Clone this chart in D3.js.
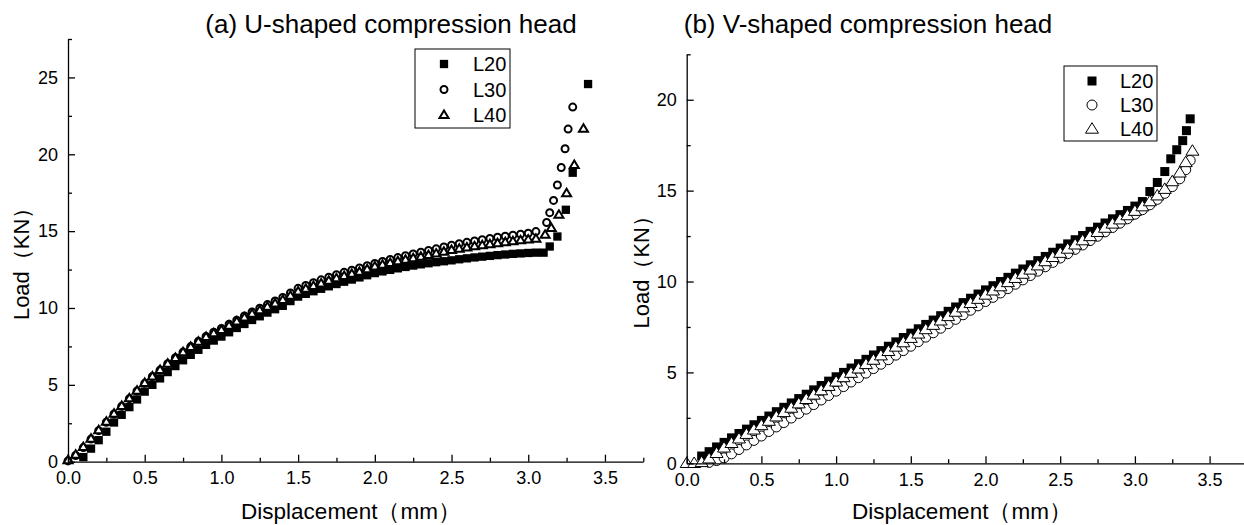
<!DOCTYPE html>
<html><head><meta charset="utf-8">
<script src="https://cdn.jsdelivr.net/npm/d3@7"></script>
<style>
html,body{margin:0;padding:0;background:#fff;}
svg{display:block;}
text{font-family:"Liberation Sans",Arial,Helvetica,sans-serif;fill:#000;}
</style></head>
<body>
<svg id="chart" width="1244" height="525"></svg>
<script>
// ---------------- DATA ----------------
const titles = ["(a) U-shaped compression head", "(b) V-shaped compression head"];
const xLabel = "Displacement（mm）";
const yLabel = "Load（KN）";
const seriesNames = ["L20", "L30", "L40"];
const xMajorTicks = [0, 0.5, 1.0, 1.5, 2.0, 2.5, 3.0, 3.5];
const xMinorTicks = [0.25, 0.75, 1.25, 1.75, 2.25, 2.75, 3.25, 3.75];
const yMajorTicksA = [0, 5, 10, 15, 20, 25];
const yMinorTicksA = [2.5, 7.5, 12.5, 17.5, 22.5, 27.5];
const yMajorTicksB = [0, 5, 10, 15, 20];
const yMinorTicksB = [2.5, 7.5, 12.5, 17.5, 22.5];

// (a) U-shaped
const aX_L20 = [0.10,0.15,0.20,0.25,0.30,0.35,0.40,0.45,0.50,0.55,0.60,0.65,0.70,0.75,0.80,0.85,0.90,0.95,1.00,1.05,1.10,1.15,1.20,1.25,1.30,1.35,1.40,1.45,1.50,1.55,1.60,1.65,1.70,1.75,1.80,1.85,1.90,1.95,2.00,2.05,2.10,2.15,2.20,2.25,2.30,2.35,2.40,2.45,2.50,2.55,2.60,2.65,2.70,2.75,2.80,2.85,2.90,2.95,3.00,3.05,3.10,3.14,3.19,3.245,3.29,3.39];
const aY_L20 = [0.30,0.85,1.40,1.95,2.55,3.05,3.55,4.05,4.56,5.00,5.42,5.83,6.22,6.60,6.95,7.28,7.60,7.88,8.14,8.42,8.70,8.96,9.22,9.46,9.70,9.92,10.14,10.45,10.74,10.92,11.09,11.25,11.41,11.56,11.71,11.85,11.99,12.13,12.27,12.38,12.48,12.58,12.67,12.76,12.84,12.91,12.98,13.04,13.10,13.17,13.23,13.29,13.34,13.39,13.44,13.48,13.52,13.55,13.58,13.60,13.60,14.00,14.65,16.39,18.80,24.57];
const aX_L30 = [0.00,0.05,0.10,0.15,0.20,0.25,0.30,0.35,0.40,0.45,0.50,0.55,0.60,0.65,0.70,0.75,0.80,0.85,0.90,0.95,1.00,1.05,1.10,1.15,1.20,1.25,1.30,1.35,1.40,1.45,1.50,1.55,1.60,1.65,1.70,1.75,1.80,1.85,1.90,1.95,2.00,2.05,2.10,2.15,2.20,2.25,2.30,2.35,2.40,2.45,2.50,2.55,2.60,2.65,2.70,2.75,2.80,2.85,2.90,2.95,3.00,3.05,3.12,3.14,3.165,3.19,3.215,3.24,3.26,3.29];
const aY_L30 = [0.05,0.40,0.92,1.47,2.02,2.57,3.10,3.60,4.10,4.60,5.10,5.54,5.96,6.37,6.76,7.13,7.49,7.83,8.15,8.42,8.67,8.94,9.21,9.48,9.74,9.98,10.22,10.46,10.68,10.98,11.28,11.47,11.65,11.83,12.00,12.16,12.32,12.46,12.60,12.75,12.90,13.03,13.16,13.28,13.40,13.52,13.63,13.74,13.85,13.97,14.08,14.18,14.27,14.36,14.44,14.52,14.60,14.67,14.74,14.80,14.86,14.97,15.56,16.20,17.00,18.00,19.14,20.36,21.64,23.07];
const aX_L40 = [0.00,0.05,0.10,0.15,0.20,0.25,0.30,0.35,0.40,0.45,0.50,0.55,0.60,0.65,0.70,0.75,0.80,0.85,0.90,0.95,1.00,1.05,1.10,1.15,1.20,1.25,1.30,1.35,1.40,1.45,1.50,1.55,1.60,1.65,1.70,1.75,1.80,1.85,1.90,1.95,2.00,2.05,2.10,2.15,2.20,2.25,2.30,2.35,2.40,2.45,2.50,2.55,2.60,2.65,2.70,2.75,2.80,2.85,2.90,2.95,3.00,3.05,3.11,3.15,3.20,3.25,3.30,3.36];
const aY_L40 = [0.10,0.45,0.95,1.50,2.05,2.60,3.12,3.62,4.12,4.62,5.12,5.55,5.97,6.37,6.75,7.12,7.47,7.80,8.12,8.35,8.57,8.85,9.12,9.38,9.62,9.85,10.08,10.30,10.52,10.80,11.07,11.25,11.43,11.60,11.77,11.93,12.08,12.22,12.35,12.52,12.70,12.82,12.93,13.04,13.14,13.24,13.34,13.44,13.54,13.66,13.78,13.86,13.94,14.01,14.08,14.15,14.22,14.28,14.34,14.40,14.45,14.50,14.76,15.20,16.06,17.47,19.30,21.66];

// (b) V-shaped
const bX_L20 = [0.10,0.15,0.20,0.25,0.30,0.35,0.40,0.45,0.50,0.55,0.60,0.65,0.70,0.75,0.80,0.85,0.90,0.95,1.00,1.05,1.10,1.15,1.20,1.25,1.30,1.35,1.40,1.45,1.50,1.55,1.60,1.65,1.70,1.75,1.80,1.85,1.90,1.95,2.00,2.05,2.10,2.15,2.20,2.25,2.30,2.35,2.40,2.45,2.50,2.55,2.60,2.65,2.70,2.75,2.80,2.85,2.90,2.95,3.00,3.05,3.10,3.15,3.20,3.24,3.28,3.32,3.345,3.37];
const bY_L20 = [0.40,0.64,0.90,1.15,1.40,1.64,1.88,2.12,2.36,2.60,2.84,3.08,3.32,3.56,3.80,4.04,4.28,4.52,4.76,5.00,5.24,5.48,5.72,5.96,6.20,6.44,6.68,6.92,7.16,7.40,7.64,7.88,8.12,8.36,8.60,8.84,9.08,9.31,9.54,9.77,10.00,10.23,10.46,10.69,10.92,11.15,11.38,11.61,11.84,12.07,12.30,12.53,12.76,12.99,13.22,13.45,13.68,13.91,14.15,14.40,14.95,15.45,16.05,16.75,17.25,17.75,18.30,18.95];
const bX_L30 = [0.15,0.20,0.25,0.30,0.35,0.40,0.45,0.50,0.55,0.60,0.65,0.70,0.75,0.80,0.85,0.90,0.95,1.00,1.05,1.10,1.15,1.20,1.25,1.30,1.35,1.40,1.45,1.50,1.55,1.60,1.65,1.70,1.75,1.80,1.85,1.90,1.95,2.00,2.05,2.10,2.15,2.20,2.25,2.30,2.35,2.40,2.45,2.50,2.55,2.60,2.65,2.70,2.75,2.80,2.85,2.90,2.95,3.00,3.05,3.10,3.15,3.20,3.25,3.30,3.34,3.37];
const bY_L30 = [0.05,0.15,0.30,0.52,0.76,1.01,1.26,1.50,1.75,2.00,2.24,2.49,2.74,2.98,3.23,3.48,3.73,3.97,4.22,4.47,4.71,4.96,5.21,5.45,5.70,5.95,6.20,6.44,6.69,6.94,7.18,7.43,7.68,7.92,8.17,8.42,8.66,8.90,9.13,9.37,9.61,9.85,10.09,10.33,10.57,10.81,11.05,11.29,11.53,11.77,12.01,12.25,12.49,12.73,12.97,13.21,13.45,13.70,13.95,14.22,14.52,14.85,15.22,15.65,16.15,16.66];
const bX_L40 = [0.00,0.05,0.10,0.15,0.20,0.25,0.30,0.35,0.40,0.45,0.50,0.55,0.60,0.65,0.70,0.75,0.80,0.85,0.90,0.95,1.00,1.05,1.10,1.15,1.20,1.25,1.30,1.35,1.40,1.45,1.50,1.55,1.60,1.65,1.70,1.75,1.80,1.85,1.90,1.95,2.00,2.05,2.10,2.15,2.20,2.25,2.30,2.35,2.40,2.45,2.50,2.55,2.60,2.65,2.70,2.75,2.80,2.85,2.90,2.95,3.00,3.05,3.10,3.15,3.20,3.25,3.30,3.34,3.385];
const bY_L40 = [0.00,0.00,0.05,0.25,0.55,0.85,1.10,1.35,1.60,1.84,2.08,2.32,2.56,2.80,3.04,3.28,3.52,3.76,4.00,4.24,4.48,4.72,4.96,5.20,5.44,5.68,5.92,6.16,6.40,6.64,6.88,7.12,7.36,7.60,7.84,8.08,8.32,8.56,8.80,9.03,9.26,9.49,9.72,9.95,10.18,10.41,10.64,10.87,11.10,11.33,11.56,11.79,12.02,12.25,12.48,12.71,12.94,13.17,13.40,13.63,13.87,14.12,14.40,14.72,15.08,15.50,15.98,16.55,17.18];

// ---------------- DRAW ----------------
const svg = d3.select("#chart");

const panels = [
  { title: titles[0], titleX: 391, xLabelX: 351,
    xRange: [68, 643.3], yRange: [461.7, 39], yMax: 27.5,
    yMajor: yMajorTicksA, yMinor: yMinorTicksA,
    series: [[aX_L20, aY_L20], [aX_L30, aY_L30], [aX_L40, aY_L40]],
    small: true,
    legend: { x: 415, y: 49, w: 95, h: 79, mx: 444, tx: 473, rows: [64, 89.5, 115] },
    yLabelX: 29 },
  { title: titles[1], titleX: 868, xLabelX: 962,
    xRange: [686.7, 686.7 + 3.75 * 149.4], yRange: [463.3, 54.3], yMax: 22.5,
    yMajor: yMajorTicksB, yMinor: yMinorTicksB,
    series: [[bX_L20, bY_L20], [bX_L30, bY_L30], [bX_L40, bY_L40]],
    small: false,
    legend: { x: 1064, y: 66, w: 93, h: 75, mx: 1092, tx: 1120, rows: [81, 105, 129] },
    yLabelX: 649 }
];

function drawMarker(g, kind, small, cx, cy) {
  if (kind === 0) {
    const s = small ? 8.3 : 9;
    g.append("rect").attr("x", cx - s / 2).attr("y", cy - s / 2)
      .attr("width", s).attr("height", s).attr("fill", "#000");
  } else if (kind === 1) {
    const r = small ? 3.5 : 5;
    g.append("circle").attr("cx", cx).attr("cy", cy).attr("r", r)
      .attr("fill", "#fff").attr("stroke", "#000").attr("stroke-width", small ? 2 : 1);
  } else {
    const w = small ? 9 : 13, h = small ? 7.5 : 10.5;
    const p = [[cx, cy - h * 0.6], [cx - w / 2, cy + h * 0.4], [cx + w / 2, cy + h * 0.4]];
    g.append("path").attr("d", "M" + p.map(q => q.join(",")).join("L") + "Z")
      .attr("fill", "#fff").attr("stroke", "#000").attr("stroke-width", small ? 2 : 1)
      .attr("stroke-linejoin", "miter");
  }
}

panels.forEach(P => {
  const x = d3.scaleLinear().domain([0, 3.75]).range(P.xRange);
  const y = d3.scaleLinear().domain([0, P.yMax]).range(P.yRange);
  const g = svg.append("g");

  // data
  P.series.forEach((s, k) => {
    const sg = g.append("g");
    s[0].forEach((xv, i) => drawMarker(sg, k, P.small, x(xv), y(s[1][i])));
  });

  // x axis
  const x0 = y(0);
  const xa = g.append("g").attr("transform", `translate(0,${x0})`)
    .call(d3.axisBottom(x).tickValues(xMajorTicks).tickFormat(d3.format(".1f"))
      .tickSizeInner(-7).tickSizeOuter(0).tickPadding(10));
  const xm = g.append("g").attr("transform", `translate(0,${x0})`)
    .call(d3.axisBottom(x).tickValues(xMinorTicks).tickFormat("").tickSizeInner(-4).tickSizeOuter(0));
  xm.select(".domain").remove();

  // y axis
  const y0 = x(0);
  const ya = g.append("g").attr("transform", `translate(${y0},0)`)
    .call(d3.axisLeft(y).tickValues(P.yMajor).tickFormat(d3.format("d"))
      .tickSizeInner(-7).tickSizeOuter(0).tickPadding(10));
  const ym = g.append("g").attr("transform", `translate(${y0},0)`)
    .call(d3.axisLeft(y).tickValues(P.yMinor).tickFormat("").tickSizeInner(-4).tickSizeOuter(0));
  ym.select(".domain").remove();

  [xa, xm, ya, ym].forEach(a => {
    a.selectAll("path,line").attr("stroke", "#000").attr("stroke-width", 1.3);
    a.selectAll("text").style("font-size", "18px").attr("fill", "#000")
      .style("font-family", '"Liberation Sans",Arial,sans-serif');
  });

  // title
  g.append("text").attr("x", P.titleX).attr("y", 33).attr("text-anchor", "middle")
    .style("font-size", "26px").text(P.title);
  // x label
  g.append("text").attr("x", P.xLabelX).attr("y", 519).attr("text-anchor", "middle")
    .style("font-size", "22.5px").text(xLabel);
  // y label
  const cy = (P.yRange[0] + P.yRange[1]) / 2 + 8;
  g.append("text").attr("transform", `translate(${P.yLabelX},${cy}) rotate(-90)`)
    .attr("text-anchor", "middle").style("font-size", "22px").text(yLabel);

  // legend
  const L = P.legend;
  const lg = g.append("g");
  lg.append("rect").attr("x", L.x).attr("y", L.y).attr("width", L.w).attr("height", L.h)
    .attr("fill", "#fff").attr("stroke", "#000").attr("stroke-width", 1);
  seriesNames.forEach((n, k) => {
    drawMarker(lg, k, P.small, L.mx, L.rows[k]);
    lg.append("text").attr("x", L.tx).attr("y", L.rows[k]).attr("dy", "0.36em")
      .style("font-size", "20px").text(n);
  });
});
</script>
</body></html>
